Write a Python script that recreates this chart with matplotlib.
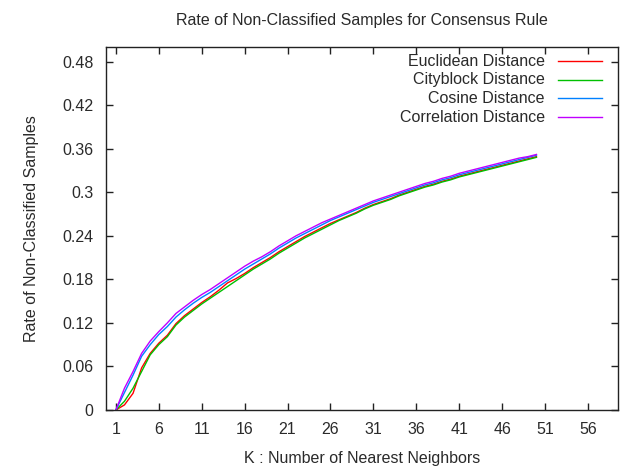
import matplotlib
matplotlib.use("Agg")
import matplotlib.pyplot as plt
from matplotlib.ticker import FixedLocator

plt.rcParams['font.family'] = ['Liberation Sans', 'DejaVu Sans']

k = list(range(1, 51))

cosine = [0.000, 0.024, 0.048, 0.074, 0.090, 0.104, 0.115, 0.128, 0.138, 0.147,
          0.155, 0.162, 0.170, 0.178, 0.186, 0.194, 0.201, 0.208, 0.215, 0.223,
          0.230, 0.237, 0.243, 0.249, 0.255, 0.261, 0.266, 0.271, 0.276, 0.281,
          0.286, 0.290, 0.294, 0.298, 0.302, 0.306, 0.310, 0.313, 0.317, 0.320,
          0.324, 0.327, 0.330, 0.333, 0.336, 0.339, 0.342, 0.345, 0.348, 0.351]
correlation = [0.000, 0.030, 0.053, 0.078, 0.095, 0.108, 0.120, 0.133, 0.142, 0.151,
               0.159, 0.166, 0.174, 0.182, 0.190, 0.198, 0.205, 0.211, 0.218, 0.226,
               0.233, 0.240, 0.246, 0.252, 0.258, 0.263, 0.268, 0.273, 0.278, 0.283,
               0.288, 0.292, 0.296, 0.300, 0.304, 0.308, 0.312, 0.315, 0.319, 0.322,
               0.326, 0.329, 0.332, 0.335, 0.338, 0.341, 0.344, 0.347, 0.349, 0.352]
euclidean = [0.000, 0.007, 0.023, 0.058, 0.078, 0.092, 0.103, 0.119, 0.130, 0.139,
             0.148, 0.156, 0.165, 0.175, 0.181, 0.188, 0.196, 0.203, 0.210, 0.218,
             0.225, 0.232, 0.239, 0.245, 0.251, 0.257, 0.262, 0.267, 0.272, 0.278,
             0.283, 0.287, 0.291, 0.296, 0.300, 0.304, 0.308, 0.311, 0.315, 0.318,
             0.322, 0.325, 0.328, 0.331, 0.334, 0.337, 0.340, 0.343, 0.346, 0.349]
cityblock = [0.000, 0.012, 0.030, 0.053, 0.076, 0.090, 0.101, 0.117, 0.128, 0.137,
             0.146, 0.154, 0.162, 0.170, 0.178, 0.186, 0.194, 0.201, 0.208, 0.216,
             0.223, 0.230, 0.237, 0.243, 0.249, 0.255, 0.261, 0.266, 0.271, 0.277,
             0.282, 0.286, 0.290, 0.295, 0.299, 0.303, 0.307, 0.310, 0.314, 0.317,
             0.321, 0.324, 0.327, 0.330, 0.333, 0.336, 0.339, 0.342, 0.345, 0.348]

series_names = ["Euclidean Distance", "Cityblock Distance", "Cosine Distance", "Correlation Distance"]
series_values = [euclidean, cityblock, cosine, correlation]
series_colors = ["#ff0000", "#00c000", "#0080ff", "#c000ff"]

xticks = [1, 6, 11, 16, 21, 26, 31, 36, 41, 46, 51, 56]
yticks = [0, 0.06, 0.12, 0.18, 0.24, 0.3, 0.36, 0.42, 0.48]
ytick_labels = ["0", "0.06", "0.12", "0.18", "0.24", "0.3", "0.36", "0.42", "0.48"]

FS = 11.5
TC = '#2a2a2a'

fig = plt.figure(figsize=(6.24, 4.66), dpi=100)
ax = fig.add_axes([106/624, 56/466, (618-106)/624, (410-47)/466])

for name, vals, c in zip(series_names, series_values, series_colors):
    ax.plot(k, vals, color=c, lw=1.0)

ax.set_xlim(-0.15, 59.5)
ax.set_ylim(0, 0.5)
ax.xaxis.set_major_locator(FixedLocator(xticks))
ax.set_xticklabels([str(t) for t in xticks])
ax.yaxis.set_major_locator(FixedLocator(yticks))
ax.set_yticklabels(ytick_labels)
ax.tick_params(direction='in', top=True, right=True, length=5, width=1,
               labelsize=FS, labelcolor=TC, color='#222222')
ax.tick_params(axis='y', pad=9)
ax.tick_params(axis='x', pad=9)
for s in ax.spines.values():
    s.set_linewidth(1.0)
    s.set_color('#222222')

ax.set_title("Rate of Non-Classified Samples for Consensus Rule", fontsize=FS,
             color=TC, pad=16)
ax.set_xlabel("K : Number of Nearest Neighbors", fontsize=FS, color=TC, labelpad=10)
ax.set_ylabel("Rate of Non-Classified Samples", fontsize=FS, color=TC, labelpad=17)

# gnuplot-style legend: right-aligned text, sample line to the right
for i, (name, c) in enumerate(zip(series_names, series_colors)):
    yy = 1 - (14 + i * 18.7) / 363
    ax.text((545 - 106) / 512, yy, name, transform=ax.transAxes, ha='right', va='center',
            fontsize=FS, color=TC)
    ax.plot([(558 - 106) / 512, (602 - 106) / 512], [yy, yy], transform=ax.transAxes,
            color=c, lw=1.0)

fig.savefig("out.png", dpi=100)
